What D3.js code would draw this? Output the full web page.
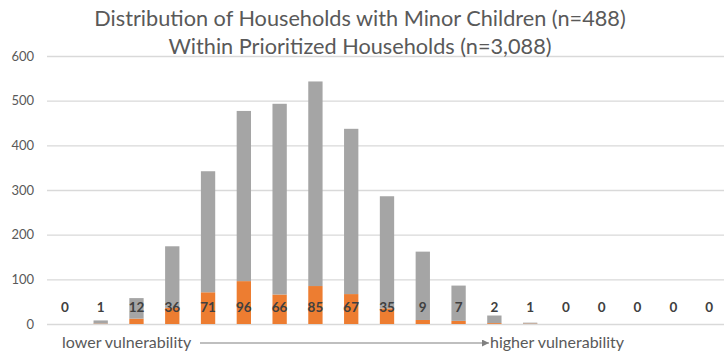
<!DOCTYPE html>
<html>
<head>
<meta charset="utf-8">
<script src="https://cdn.jsdelivr.net/npm/d3@7"></script>
<style>
  html, body { margin: 0; padding: 0; background: #fff; }
  svg { display: block; font-family: Lato, "Open Sans", sans-serif; }
</style>
</head>
<body>
<svg id="chart" width="724" height="357"></svg>
<script>
// Vulnerability score buckets (low -> high)
const categories = d3.range(19).map(String);
// Households with minor children in each bucket
const minorChildren = [0, 1, 12, 36, 71, 96, 66, 85, 67, 35, 9, 7, 2, 1, 0, 0, 0, 0, 0];
// All prioritized households in each bucket
const totalHouseholds = [0, 8, 58, 174, 342, 477, 493, 543, 437, 286, 162, 86, 19, 3, 0, 0, 0, 0, 0];
const yTicks = [0, 100, 200, 300, 400, 500, 600];
const titleLines = [
  "Distribution of Households with Minor Children (n=488)",
  "Within Prioritized Households (n=3,088)"
];

const svg = d3.select("#chart");
const W = 724, H = 357;
const plot = { left: 47, right: 727, top: 56, bottom: 324 };

const x = d3.scaleBand().domain(categories).range([plot.left, plot.right]).paddingInner(0.6).paddingOuter(0.3);
const y = d3.scaleLinear().domain([0, 600]).range([plot.bottom, plot.top]);

// Gridlines and value axis
const yAxis = d3.axisLeft(y).tickValues(yTicks).tickSize(-(W - plot.left)).tickPadding(13);
const gy = svg.append("g").attr("transform", `translate(${plot.left},0)`).call(yAxis);
gy.select(".domain").remove();
gy.selectAll(".tick line").attr("stroke", "#d9d9d9").attr("stroke-width", 1.3);
gy.selectAll(".tick text").attr("fill", "#595959").attr("font-size", 13)
  .attr("font-family", "Lato, sans-serif");

// Stacked bars: children households at the base, remaining households above
const rows = categories.map((c, i) => ({
  cat: c, kids: minorChildren[i], rest: totalHouseholds[i] - minorChildren[i]
}));
const stack = d3.stack().keys(["kids", "rest"])(rows);
const colors = { kids: "#ED7D31", rest: "#A5A5A5" };

svg.append("g").selectAll("g").data(stack).join("g")
  .attr("fill", d => colors[d.key])
  .selectAll("rect").data(d => d).join("rect")
  .attr("x", d => x(d.data.cat))
  .attr("width", x.bandwidth())
  .attr("y", d => y(d[1]))
  .attr("height", d => y(d[0]) - y(d[1]));

// Labels at the base of each bar
svg.append("g").selectAll("text").data(rows).join("text")
  .attr("x", d => x(d.cat) + x.bandwidth() / 2)
  .attr("y", y(0) - 12)
  .attr("text-anchor", "middle")
  .attr("fill", "#404040")
  .attr("font-weight", "bold")
  .attr("font-size", 13.5)
  .text(d => d.kids);

// Title
svg.append("g").selectAll("text").data(titleLines).join("text")
  .attr("x", 360)
  .attr("y", (d, i) => 26 + i * 28)
  .attr("text-anchor", "middle")
  .attr("fill", "#595959")
  .attr("font-size", 21.7)
  .text(d => d);

// Direction of vulnerability along the category axis
const defs = svg.append("defs");
defs.append("marker").attr("id", "arrow").attr("viewBox", "0 0 10 10")
  .attr("refX", 10).attr("refY", 5).attr("markerWidth", 7).attr("markerHeight", 7)
  .attr("markerUnits", "userSpaceOnUse").attr("orient", "auto")
  .append("path").attr("d", "M0,0L10,5L0,10Z").attr("fill", "#808080");

svg.append("text").attr("x", 62).attr("y", 348).attr("fill", "#595959")
  .attr("font-size", 16).text("lower vulnerability");
svg.append("line").attr("x1", 200).attr("x2", 489).attr("y1", 343).attr("y2", 343)
  .attr("stroke", "#808080").attr("stroke-width", 1.2).attr("marker-end", "url(#arrow)");
svg.append("text").attr("x", 490).attr("y", 348).attr("fill", "#595959")
  .attr("font-size", 16).text("higher vulnerability");
</script>
</body>
</html>
